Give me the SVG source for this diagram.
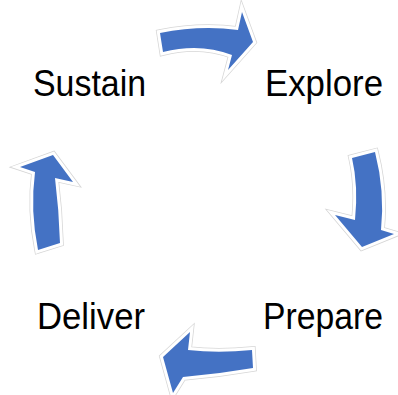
<svg xmlns="http://www.w3.org/2000/svg" width="398" height="395" viewBox="0 0 398 395">
  <defs>
    <style>
      .lbl { font-family: "Liberation Sans", Arial, sans-serif; font-size: 36px; fill: #000; }
      .edge { fill: none; stroke: #d6d6d6; stroke-width: 7.5; stroke-linejoin: miter; stroke-miterlimit: 10; }
      .arr { fill: #4472C4; stroke: #ffffff; stroke-width: 6; stroke-linejoin: miter; stroke-miterlimit: 10; paint-order: stroke; }
    </style>
    <path id="a-top" d="M160,33 Q200,25 238,30 L242,12 L253,42 L228,70 L232,55 Q200,42.5 163,52 Z"/>
    <path id="a-right" d="M352,158 L375,152 Q385,191 381,230 L394,234 L362,247 L335,215 L355,220 Q358.5,186 352,158 Z"/>
    <path id="a-bottom" d="M252,350 Q218,353.4 188,350 L190,332 L163,357 L173,393 L183,377 Q218,374 253,368 Z"/>
    <path id="a-left" d="M38,250 L60,243 Q59,210 55,178 L73,182 L53,155 L20,167 L35,172 Q30,210 38,250 Z"/>
  </defs>

  <g id="connectors">
    <g id="arrow-sustain-explore">
      <use href="#a-top" class="edge"/>
      <use href="#a-top" class="arr"/>
    </g>
    <g id="arrow-explore-prepare">
      <use href="#a-right" class="edge"/>
      <use href="#a-right" class="arr"/>
    </g>
    <g id="arrow-prepare-deliver">
      <use href="#a-bottom" class="edge"/>
      <use href="#a-bottom" class="arr"/>
    </g>
    <g id="arrow-deliver-sustain">
      <use href="#a-left" class="edge"/>
      <use href="#a-left" class="arr"/>
    </g>
  </g>

  <g id="node-sustain">
    <text class="lbl" x="33" y="96" textLength="113" lengthAdjust="spacingAndGlyphs">Sustain</text>
  </g>
  <g id="node-explore">
    <text class="lbl" x="265" y="96" textLength="118" lengthAdjust="spacingAndGlyphs">Explore</text>
  </g>
  <g id="node-prepare">
    <text class="lbl" x="263" y="329" textLength="120" lengthAdjust="spacingAndGlyphs">Prepare</text>
  </g>
  <g id="node-deliver">
    <text class="lbl" x="37" y="329" textLength="108" lengthAdjust="spacingAndGlyphs">Deliver</text>
  </g>
</svg>
